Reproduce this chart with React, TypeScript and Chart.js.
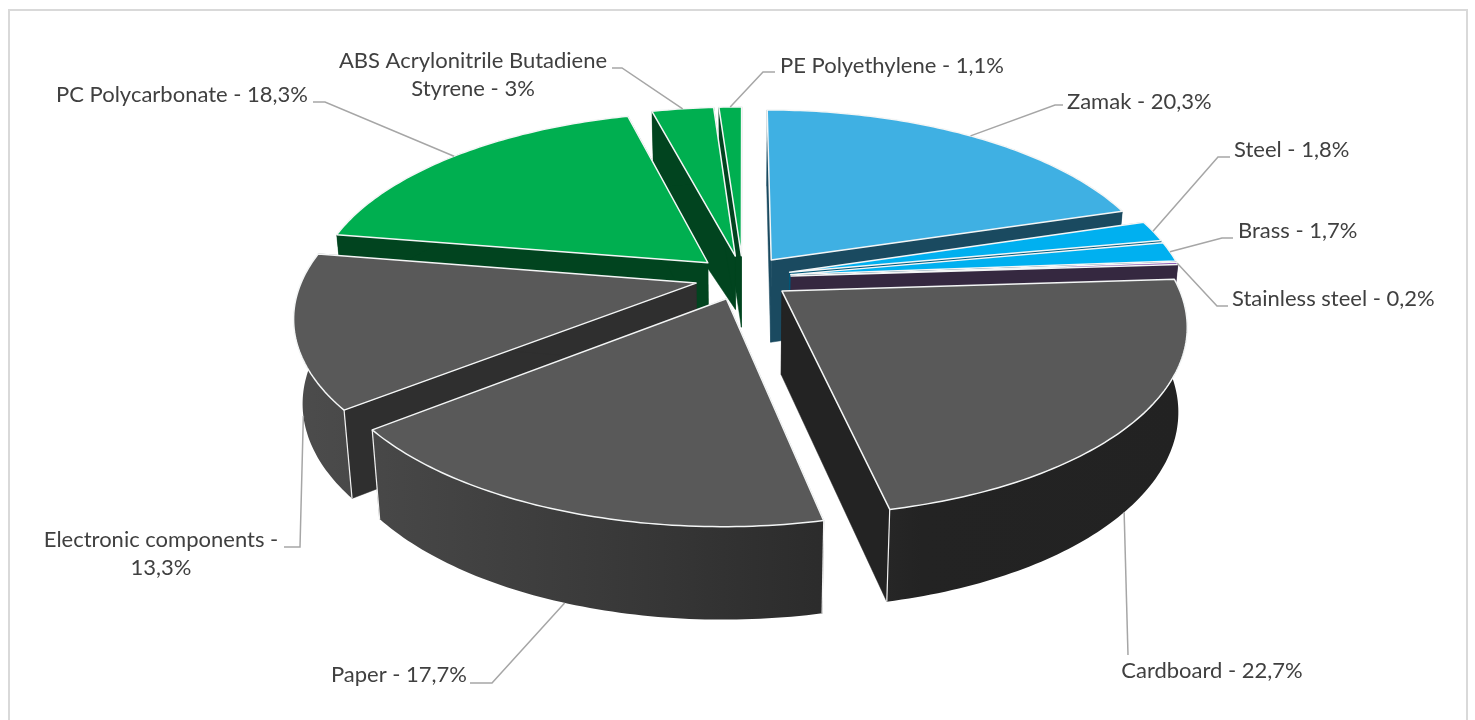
import React, { useEffect, useRef } from "react";
import { Chart, registerables } from "chart.js";

Chart.register(...registerables);

const materials = [
  "Zamak",
  "Steel",
  "Brass",
  "Stainless steel",
  "Cardboard",
  "Paper",
  "Electronic components",
  "PC Polycarbonate",
  "ABS Acrylonitrile Butadiene Styrene",
  "PE Polyethylene",
];
const shares = [20.3, 1.8, 1.7, 0.2, 22.7, 17.7, 13.3, 18.3, 3, 1.1];
const topColors = ["#3FB0E3", "#00B0F0", "#00B0F0", "#7030A0", "#595959", "#595959", "#595959", "#00AF50", "#00AF50", "#00AF50"];
const wallColors = ["#1A4A60", "#00597A", "#00597A", "#352840", "#232323", "#2C2C2C", "#2F2F2F", "#01441F", "#01441F", "#01441F"];
// How far the inner edge of each wall reaches down, as a share of the full depth.
const tipDepths = [1, 1, 1, 1, 1, 1, 1, 1, 0.65, 0.87];

// Leader-line and label placement: anchor depth and angle nudge, elbow points, text anchor.
const labelLayout = [
  { z: 0, nudge: 0, pts: [[1055, 105], [1063, 105]], tx: 1067, ty: 102, align: "left" },
  { z: 0, nudge: 0, pts: [[1218, 157], [1230, 157]], tx: 1234, ty: 150, align: "left" },
  { z: 0, nudge: 0, pts: [[1222, 238], [1233, 238]], tx: 1238, ty: 231, align: "left" },
  { z: 0, nudge: 0, pts: [[1217, 306], [1228, 306]], tx: 1232, ty: 299, align: "left" },
  { z: 1, nudge: 0.04, pts: [[1128, 655]], tx: 1212, ty: 671, align: "center" },
  { z: 1, nudge: 0, pts: [[492, 683], [470, 683]], tx: 467, ty: 675, align: "right" },
  { z: 1, nudge: 0, pts: [[300, 547], [284, 547]], tx: 161, ty: 540, align: "center" },
  { z: 0, nudge: 0, pts: [[325, 102], [313, 102]], tx: 308, ty: 95, align: "right" },
  { z: 0, nudge: 0, pts: [[622, 68], [612, 68]], tx: 473, ty: 61, align: "center" },
  { z: 0, nudge: 0, pts: [[763, 72], [775, 72]], tx: 780, ty: 66, align: "left" },
];

const RX = 393; // plane radius on screen, horizontally
const RY = 181; // plane radius on screen, vertically
const PERSPECTIVE = 0.17;
const DEPTH = 83;
const FONT = '22px Lato, "Open Sans", sans-serif';

function project(cx: number, cy: number, u: number, v: number, z: number) {
  const k = 1 / (1 - PERSPECTIVE * v);
  const x = RX * u * k;
  const y = RY * v * k;
  return [cx + x * (1 - 0.02 * z), cy + y + z * (DEPTH + 0.04 * y)];
}

function sliceGeometry(arc: any) {
  const p = arc.getProps(["x", "y", "startAngle", "endAngle", "outerRadius"], true);
  const mid = (p.startAngle + p.endAngle) / 2;
  const e = (arc.options.offset || 0) / p.outerRadius;
  const ou = e * Math.cos(mid);
  const ov = e * Math.sin(mid);
  const at = (theta: number, r: number, z: number) =>
    project(p.x, p.y, ou + r * Math.cos(theta), ov + r * Math.sin(theta), z);
  const steps = Math.max(4, Math.ceil((p.endAngle - p.startAngle) * 60));
  const angles: number[] = [];
  for (let i = 0; i <= steps; i++) angles.push(p.startAngle + ((p.endAngle - p.startAngle) * i) / steps);
  return { p, mid, at, angles };
}

function poly(ctx: CanvasRenderingContext2D, pts: number[][]) {
  ctx.beginPath();
  pts.forEach((q, i) => (i ? ctx.lineTo(q[0], q[1]) : ctx.moveTo(q[0], q[1])));
  ctx.closePath();
}

function wrap(ctx: CanvasRenderingContext2D, text: string, maxW: number) {
  const lines: string[] = [];
  let cur = "";
  for (const w of text.split(" ")) {
    const t = cur ? cur + " " + w : w;
    if (cur && ctx.measureText(t).width > maxW) {
      lines.push(cur);
      cur = w;
    } else cur = t;
  }
  lines.push(cur);
  return lines;
}

const pie3d = {
  id: "pie3d",
  beforeDraw(chart: any) {
    const { ctx, width, height } = chart;
    ctx.save();
    ctx.fillStyle = "#ffffff";
    ctx.fillRect(0, 0, width, height);
    ctx.strokeStyle = "#D9D9D9";
    ctx.lineWidth = 2;
    ctx.strokeRect(9, 10, 1458, 730);
    ctx.restore();
  },
  beforeDatasetDraw(chart: any, args: any) {
    const ctx: CanvasRenderingContext2D = chart.ctx;
    const arcs: any[] = args.meta.data;
    const order = arcs
      .map((arc, i) => ({ arc, i, g: sliceGeometry(arc) }))
      .sort((a, b) => Math.sin(a.g.mid) - Math.sin(b.g.mid));

    const shade = ctx.createLinearGradient(295, 0, 1190, 0);
    shade.addColorStop(0, "#4C4C4C");
    shade.addColorStop(0.1, "#474747");
    shade.addColorStop(0.34, "#3A3A3A");
    shade.addColorStop(0.6, "#2B2B2B");
    shade.addColorStop(0.7, "#232323");
    shade.addColorStop(1, "#222222");

    ctx.save();
    ctx.lineJoin = "round";
    for (const { arc, i, g } of order) {
      const { at, angles, p } = g;
      const wall = wallColors[i];
      const tip0 = at(0, 0, 0);
      const tip1 = at(0, 0, tipDepths[i]);
      const radial = (theta: number) => {
        poly(ctx, [tip0, at(theta, 1, 0), at(theta, 1, 1), tip1]);
        ctx.fillStyle = wall;
        ctx.fill();
        ctx.strokeStyle = wall;
        ctx.lineWidth = 0.5;
        ctx.stroke();
      };
      radial(p.startAngle);
      radial(p.endAngle);

      const strip = [
        ...angles.map((t: number) => at(t, 1, 0)),
        ...angles.slice().reverse().map((t: number) => at(t, 1, 1)),
      ];
      poly(ctx, strip);
      ctx.fillStyle = i >= 4 && i <= 6 ? shade : wall;
      ctx.fill();

      ctx.strokeStyle = "#F2F2F2";
      ctx.lineWidth = 1.2;
      for (const t of [p.startAngle, p.endAngle]) {
        const a = at(t, 1, 0);
        const b = at(t, 1, 1);
        if (Math.sin(t) > 0.2) {
          ctx.beginPath();
          ctx.moveTo(a[0], a[1]);
          ctx.lineTo(b[0], b[1]);
          ctx.stroke();
        }
      }

      poly(ctx, [tip0, ...angles.map((t: number) => at(t, 1, 0))]);
      ctx.fillStyle = arc.options.backgroundColor;
      ctx.fill();
      ctx.strokeStyle = arc.options.borderColor;
      ctx.lineWidth = arc.options.borderWidth;
      ctx.stroke();
    }
    ctx.restore();
    return false;
  },
  afterDatasetsDraw(chart: any) {
    const ctx: CanvasRenderingContext2D = chart.ctx;
    const arcs: any[] = chart.getDatasetMeta(0).data;
    ctx.save();
    ctx.font = FONT;
    ctx.textBaseline = "middle";
    arcs.forEach((arc, i) => {
      const layout = labelLayout[i];
      const g = sliceGeometry(arc);
      const start = g.at(g.mid + layout.nudge, 1, layout.z);
      ctx.strokeStyle = "#A6A6A6";
      ctx.lineWidth = 1.5;
      ctx.beginPath();
      ctx.moveTo(start[0], start[1]);
      layout.pts.forEach((q) => ctx.lineTo(q[0], q[1]));
      ctx.stroke();

      const text = `${materials[i]} - ${String(shares[i]).replace(".", ",")}%`;
      ctx.fillStyle = "#404040";
      ctx.textAlign = layout.align as CanvasTextAlign;
      wrap(ctx, text, 272).forEach((line, n) => ctx.fillText(line, layout.tx, layout.ty + n * 28));
    });
    ctx.restore();
  },
};

export default function App() {
  const ref = useRef<HTMLCanvasElement | null>(null);
  useEffect(() => {
    document.body.style.margin = "0";
    const chart = new Chart(ref.current as HTMLCanvasElement, {
      type: "pie",
      data: {
        labels: materials,
        datasets: [
          {
            data: shares,
            backgroundColor: topColors,
            borderColor: "#F4F6F6",
            borderWidth: 1.5,
            offset: 32,
          },
        ],
      },
      options: {
        responsive: false,
        animation: false,
        layout: { padding: { left: 11, bottom: 165 } },
        plugins: { legend: { display: false }, tooltip: { enabled: false } },
      },
      plugins: [pie3d],
    } as any);
    return () => chart.destroy();
  }, []);
  return <canvas ref={ref} width={1475} height={720} style={{ display: "block" }} />;
}
